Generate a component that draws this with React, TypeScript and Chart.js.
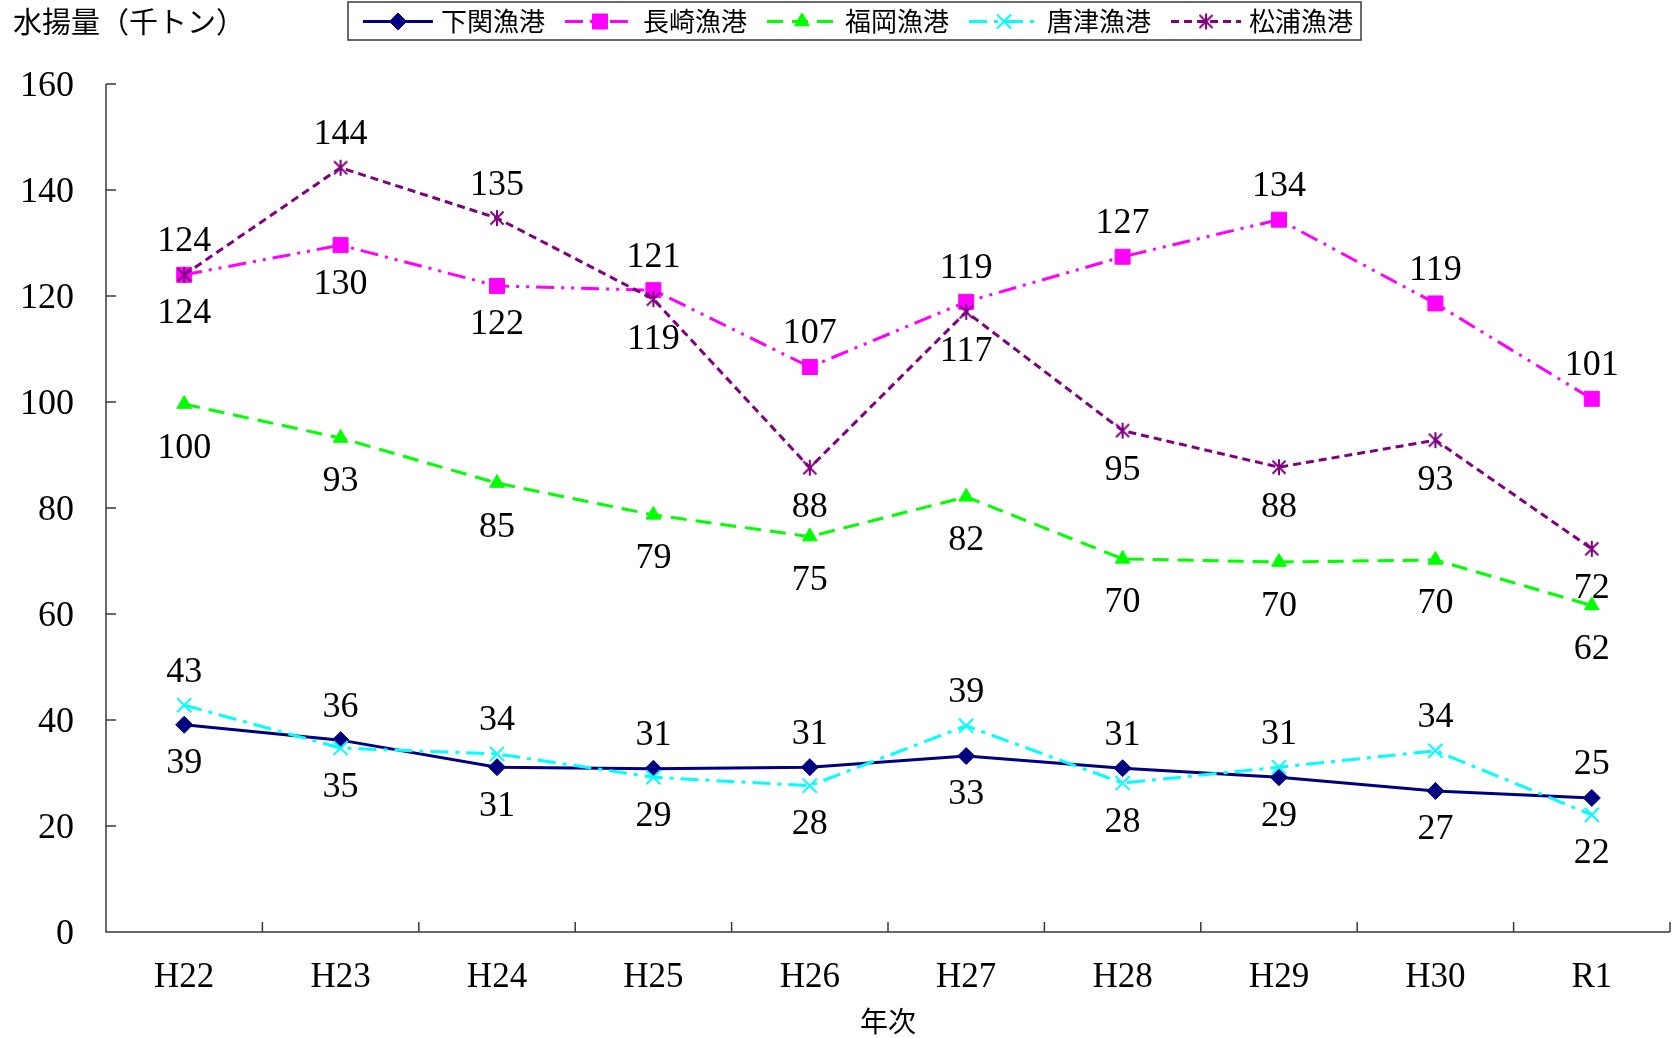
import React, { useEffect, useRef } from 'react';
import { Chart, registerables } from 'chart.js';
import { drawPoint } from 'chart.js/helpers';

Chart.register(...registerables);

// ---- data ----
const categories = ['H22', 'H23', 'H24', 'H25', 'H26', 'H27', 'H28', 'H29', 'H30', 'R1'];
const seriesNames = ['下関漁港', '長崎漁港', '福岡漁港', '唐津漁港', '松浦漁港'];

const shimonoseki = [39.1, 36.2, 31.1, 30.8, 31.1, 33.2, 30.9, 29.2, 26.6, 25.3];
const nagasaki = [124.0, 129.6, 121.9, 121.1, 106.6, 118.9, 127.4, 134.4, 118.6, 100.6];
const fukuoka = [99.6, 93.2, 84.7, 78.7, 74.6, 82.1, 70.4, 69.8, 70.2, 61.6];
const karatsu = [42.8, 34.7, 33.6, 29.2, 27.6, 38.9, 28.1, 31.1, 34.2, 22.1];
const matsuura = [124.0, 144.2, 134.7, 119.4, 87.6, 117.0, 94.6, 87.7, 92.8, 72.3];

// data label placement: 'a' = above, 'b' = below
const shimonosekiLabelPos = ['b', 'a', 'b', 'a', 'a', 'b', 'a', 'b', 'b', 'a'];
const nagasakiLabelPos = ['b', 'b', 'b', 'a', 'a', 'a', 'a', 'a', 'a', 'a'];
const fukuokaLabelPos = ['b', 'b', 'b', 'b', 'b', 'b', 'b', 'b', 'b', 'b'];
const karatsuLabelPos = ['a', 'b', 'a', 'b', 'b', 'a', 'b', 'a', 'a', 'b'];
const matsuuraLabelPos = ['a', 'a', 'a', 'b', 'b', 'b', 'b', 'b', 'b', 'b'];

const Y_MIN = 0;
const Y_MAX = 160;
const Y_STEP = 20;

const yAxisTitle = '水揚量（千トン）';
const xAxisTitle = '年次';

// ---- styles ----
const NUM_FONT = '"Liberation Serif", "Times New Roman", serif';
const JP_FONT = '"Noto Sans CJK JP", "Noto Sans", sans-serif';
const AXIS_COLOR = '#3a3a3a';

function makeAsterisk(color: string, size: number, lw: number): HTMLCanvasElement {
  const c = document.createElement('canvas');
  c.width = size;
  c.height = size;
  const g = c.getContext('2d')!;
  g.strokeStyle = color;
  g.lineWidth = lw;
  const m = size / 2;
  const r = size / 2 - 1;
  const d = r * 0.82;
  g.beginPath();
  g.moveTo(m - d, m - d);
  g.lineTo(m + d, m + d);
  g.moveTo(m + d, m - d);
  g.lineTo(m - d, m + d);
  g.moveTo(m, m - r);
  g.lineTo(m, m + r);
  g.stroke();
  return c;
}

export default function App() {
  const canvasRef = useRef<HTMLCanvasElement | null>(null);

  useEffect(() => {
    document.body.style.margin = '0';
    const canvas = canvasRef.current;
    if (!canvas) return;

    const asterisk = makeAsterisk('#800080', 18, 2);
    const labelPositions = [
      shimonosekiLabelPos,
      nagasakiLabelPos,
      fukuokaLabelPos,
      karatsuLabelPos,
      matsuuraLabelPos,
    ];

    const datasets: any[] = [
      {
        label: seriesNames[0],
        data: shimonoseki,
        borderColor: '#000080',
        backgroundColor: '#000080',
        borderWidth: 3,
        borderDash: [],
        pointStyle: 'rectRot',
        pointRadius: 8.5,
        pointBorderWidth: 1,
        pointBackgroundColor: '#000080',
        pointBorderColor: '#000080',
        order: 5,
        labelGapAbove: 33,
        labelGapBelow: 39,
      },
      {
        label: seriesNames[1],
        data: nagasaki,
        borderColor: '#FF00FF',
        backgroundColor: '#FF00FF',
        borderWidth: 3,
        borderDash: [18, 7, 3, 7, 3, 7],
        pointStyle: 'rect',
        pointRadius: 10.6,
        pointBorderWidth: 1,
        pointBackgroundColor: '#FF00FF',
        pointBorderColor: '#FF00FF',
        order: 4,
        labelGapAbove: 33,
        labelGapBelow: 39,
      },
      {
        label: seriesNames[2],
        data: fukuoka,
        borderColor: '#00FF00',
        backgroundColor: '#00FF00',
        borderWidth: 3,
        borderDash: [16, 9],
        pointStyle: 'triangle',
        pointRadius: 8.5,
        pointBorderWidth: 1,
        pointBackgroundColor: '#00FF00',
        pointBorderColor: '#00FF00',
        order: 3,
        labelGapAbove: 33,
        labelGapBelow: 44,
      },
      {
        label: seriesNames[3],
        data: karatsu,
        borderColor: '#00FFFF',
        backgroundColor: '#00FFFF',
        borderWidth: 3,
        borderDash: [18, 7, 4, 7],
        pointStyle: 'crossRot',
        pointRadius: 10,
        pointBorderWidth: 2,
        pointBackgroundColor: '#00FFFF',
        pointBorderColor: '#00FFFF',
        order: 2,
        labelGapAbove: 33,
        labelGapBelow: 39,
      },
      {
        label: seriesNames[4],
        data: matsuura,
        borderColor: '#800080',
        backgroundColor: '#800080',
        borderWidth: 3,
        borderDash: [8, 5],
        pointStyle: asterisk,
        pointRadius: 9,
        pointBorderWidth: 2,
        pointBackgroundColor: '#800080',
        pointBorderColor: '#800080',
        order: 1,
        labelGapAbove: 33,
        labelGapBelow: 40,
      },
    ];

    const decorPlugin = {
      id: 'decor',
      beforeDatasetsDraw(chart: any) {
        const { ctx, chartArea, scales } = chart;
        const { left, right, top, bottom } = chartArea;
        const x = scales.x;
        const y = scales.y;
        ctx.save();
        ctx.strokeStyle = AXIS_COLOR;
        ctx.lineWidth = 1.5;
        ctx.beginPath();
        ctx.moveTo(left, top);
        ctx.lineTo(left, bottom);
        ctx.lineTo(right, bottom);
        for (let v = Y_MIN; v <= Y_MAX; v += Y_STEP) {
          const py = y.getPixelForValue(v);
          ctx.moveTo(left, py);
          ctx.lineTo(left + 10, py);
        }
        const n = categories.length;
        const half = (x.getPixelForValue(1) - x.getPixelForValue(0)) / 2;
        for (let i = 0; i <= n; i++) {
          const px = i < n ? x.getPixelForValue(i) - half : x.getPixelForValue(n - 1) + half;
          ctx.moveTo(px, bottom);
          ctx.lineTo(px, bottom - 10);
        }
        ctx.stroke();
        ctx.restore();
      },
      afterDatasetsDraw(chart: any) {
        const { ctx } = chart;
        ctx.save();
        ctx.fillStyle = '#000';
        ctx.font = `36px ${NUM_FONT}`;
        ctx.textAlign = 'center';
        ctx.textBaseline = 'middle';
        chart.data.datasets.forEach((ds: any, d: number) => {
          const meta = chart.getDatasetMeta(d);
          meta.data.forEach((pt: any, i: number) => {
            const v = ds.data[i];
            const pos = labelPositions[d][i];
            const ty = pt.y + (pos === 'a' ? -ds.labelGapAbove : ds.labelGapBelow);
            ctx.fillText(String(Math.round(v)), pt.x, ty);
          });
        });
        ctx.restore();
      },
      afterDraw(chart: any) {
        const { ctx, chartArea } = chart;
        ctx.save();
        // y axis title (top-left)
        ctx.fillStyle = '#000';
        ctx.font = `29px ${JP_FONT}`;
        ctx.textAlign = 'left';
        ctx.textBaseline = 'middle';
        ctx.fillText(yAxisTitle, 13, 22);
        // x axis title
        ctx.font = `28px ${JP_FONT}`;
        ctx.textAlign = 'center';
        ctx.fillText(xAxisTitle, (chartArea.left + chartArea.right) / 2, 1021);

        // legend
        const lx0 = 348;
        const ly0 = 2;
        const lh = 38;
        const cy = ly0 + lh / 2 + 0.5;
        let cx = lx0 + 15;
        const lineLen = 70;
        ctx.font = `26px ${JP_FONT}`;
        const items: any[] = [];
        chart.data.datasets.forEach((ds: any) => {
          items.push({ ds, x: cx });
          const tw = ctx.measureText(ds.label).width;
          cx += lineLen + 8 + tw + 20;
        });
        const boxRight = cx - 20 + 8;
        ctx.fillStyle = '#fff';
        ctx.fillRect(lx0, ly0, boxRight - lx0, lh);
        ctx.strokeStyle = AXIS_COLOR;
        ctx.lineWidth = 1.5;
        ctx.strokeRect(lx0, ly0, boxRight - lx0, lh);
        items.forEach(({ ds, x }) => {
          ctx.save();
          ctx.strokeStyle = ds.borderColor;
          ctx.lineWidth = ds.borderWidth;
          ctx.setLineDash(ds.borderDash || []);
          ctx.beginPath();
          ctx.moveTo(x, cy);
          ctx.lineTo(x + lineLen, cy);
          ctx.stroke();
          ctx.setLineDash([]);
          ctx.fillStyle = ds.pointBackgroundColor;
          ctx.strokeStyle = ds.pointBorderColor;
          ctx.lineWidth = ds.pointBorderWidth;
          drawPoint(ctx, {
            pointStyle: ds.pointStyle,
            radius: ds.pointRadius,
            rotation: 0,
            borderWidth: ds.pointBorderWidth,
          } as any, x + lineLen / 2, cy);
          ctx.restore();
          ctx.fillStyle = '#000';
          ctx.font = `26px ${JP_FONT}`;
          ctx.textAlign = 'left';
          ctx.textBaseline = 'middle';
          ctx.fillText(ds.label, x + lineLen + 8, cy);
        });
        ctx.restore();
      },
    };

    const chart = new Chart(canvas, {
      type: 'line',
      data: { labels: categories, datasets },
      options: {
        animation: false,
        responsive: false,
        maintainAspectRatio: false,
        devicePixelRatio: 1,
        layout: { autoPadding: false, padding: { top: 84, right: 6, left: 0, bottom: 0 } },
        elements: { line: { tension: 0, fill: false } },
        plugins: {
          legend: { display: false },
          tooltip: { enabled: false },
          title: { display: false },
        },
        scales: {
          x: {
            type: 'category',
            offset: true,
            grid: { display: false, drawTicks: false },
            border: { display: false },
            ticks: {
              font: { family: NUM_FONT, size: 35 },
              color: '#000',
              padding: 25,
              maxRotation: 0,
              autoSkip: false,
            },
            afterFit: (s: any) => {
              s.height = 106;
            },
          },
          y: {
            min: Y_MIN,
            max: Y_MAX,
            grid: { display: false, drawTicks: false },
            border: { display: false },
            ticks: {
              stepSize: Y_STEP,
              font: { family: NUM_FONT, size: 36 },
              color: '#000',
              padding: 32,
              labelOffset: 3,
            },
            afterFit: (s: any) => {
              s.width = 106;
            },
          },
        },
      },
      plugins: [decorPlugin],
    });

    return () => {
      chart.destroy();
    };
  }, []);

  return (
    <div style={{ width: 1676, height: 1038, background: '#fff' }}>
      <canvas ref={canvasRef} width={1676} height={1038} style={{ display: 'block' }} />
    </div>
  );
}
